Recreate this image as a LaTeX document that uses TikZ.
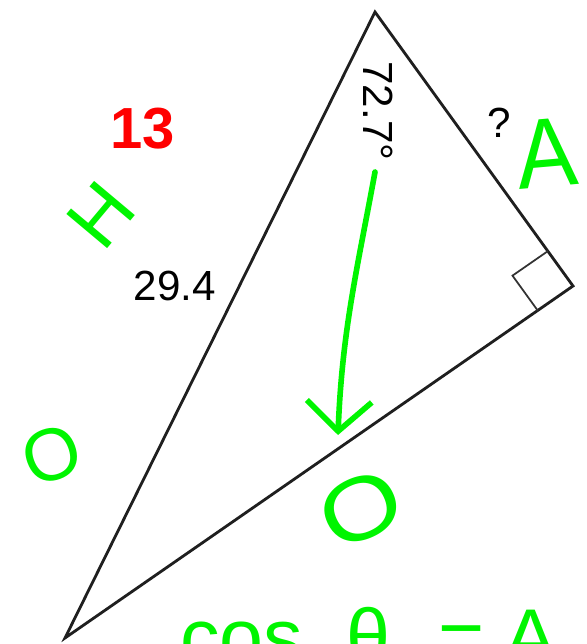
\documentclass[tikz,border=0pt]{standalone}
\usepackage{fontspec}
\setmainfont{Liberation Sans}
\usetikzlibrary{positioning, arrows.meta, calc}
\definecolor{verde}{RGB}{0,245,0}
\definecolor{rojo}{RGB}{255,0,0}
\tikzset{
  lado/.style={line width=1.6pt, draw=black!88, line join=miter},
  marca/.style={line width=1pt, draw=black!80},
  dato/.style={font=\fontsize{24}{28}\selectfont, text=black, inner sep=0pt},
  pregunta/.style={font=\fontsize{33}{36}\selectfont\bfseries, text=rojo, inner sep=0pt},
  nota/.style={text=verde, inner sep=0pt},
  flecha/.style={line width=3.2pt, draw=verde, line cap=round, -{Straight Barb[length=0.6cm, width=1.3cm]}}
}

\begin{document}
\begin{tikzpicture}[x=0.02cm, y=-0.02cm]
        \useasboundingbox (0,0) rectangle (586,644);
        \clip (0,0) rectangle (586,644);

        % Vertices del triangulo
        \coordinate (vcima) at (375,12);
        \coordinate (vrecto) at (573,286);
        \coordinate (vbase) at (65,638);
        \draw [lado] (vcima) -- (vrecto) -- (vbase) -- cycle;

        % Marca del angulo recto
        \coordinate (m1) at ($(vrecto)!0.86cm!(vcima)$);
        \coordinate (m2) at ($(vrecto)!0.86cm!(vbase)$);
        \draw [marca] (m1) -- ($(m1)+(m2)-(vrecto)$) -- (m2);

        % Datos
        \node (trece) [pregunta] at (143,129) {13};
        \node (angulo) [dato, rotate=-90] at (378,111) {72.7°};
        \node (hip) [dato] at (175,286) {29.4};
        \node (incog) [dato] at (499,123) {?};

        % Anotaciones a mano
        \node (letH) [nota, font=\fontsize{44}{44}\selectfont, rotate=50] at (101,215) {H};
        \node (letA) [nota, font=\fontsize{56}{56}\selectfont, rotate=5, xscale=0.92] at (547,153) {A};
        \node (letO1) [nota, font=\fontsize{42}{42}\selectfont, rotate=20] at (52,455) {O};
        \node (letO2) [nota, font=\fontsize{50}{50}\selectfont, rotate=25, xscale=1.2] at (361,509) {O};
        \node (formula) [nota, font=\fontsize{45}{45}\selectfont, anchor=base west] at (180,664) {cos\kern 0.55em θ\kern 0.6em=\kern 0.25em A};

        % Flecha del angulo al cateto opuesto
        \coordinate (fini) at (375,172);
        \coordinate (ffin) at (338,435);
        \draw [flecha] (fini) .. controls (358,265) and (342,330) .. (ffin);

    \end{tikzpicture}
\end{document}
